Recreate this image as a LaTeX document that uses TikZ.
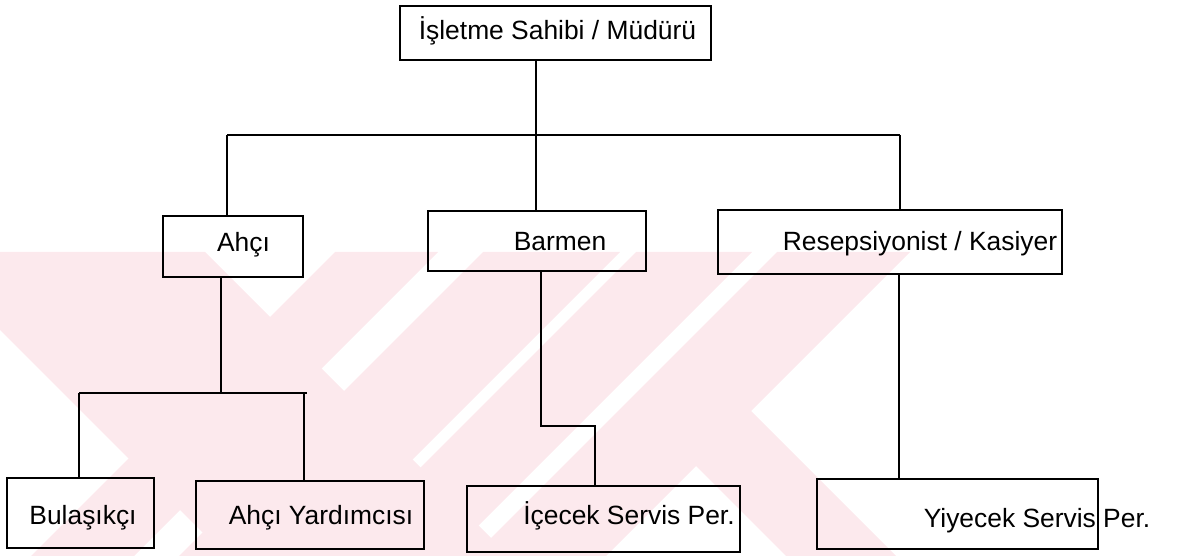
\documentclass[tikz,border=0pt]{standalone}
\usepackage{fontspec}
\setmainfont{Liberation Sans}
\begin{document}
\begin{tikzpicture}[x=1pt,y=-1pt,
  box/.style={draw=black, line width=1.7pt, rectangle, inner sep=0pt},
  lbl/.style={font=\fontsize{26.4}{30}\selectfont, anchor=base, inner sep=0pt},
  conn/.style={draw=black, line width=1.2pt},
  bus/.style={draw=black, line width=1.6pt}]
\definecolor{wm}{RGB}{252,233,237}
\useasboundingbox (0,0) rectangle (1179,556);

% pale background emblem of diagonal bands
\begin{scope}
  \clip (0,252) rectangle (1179,556);
  \fill[wm] (-78,252) -- (205,252) -- (509,556) -- (226,556) -- cycle;
  \fill[wm] (335,252) -- (438,252) -- (134,556) -- (31,556) -- cycle;
  \fill[wm] (483,252) -- (620,252) -- (316,556) -- (179,556) -- cycle;
  \fill[wm] (636,252) -- (752,252) -- (448,556) -- (332,556) -- cycle;
  \fill[wm] (777,252) -- (910,252) -- (606,556) -- (473,556) -- cycle;
  \fill[wm] (665,435) -- (720,380) -- (896,556) -- (786,556) -- cycle;
\end{scope}

% boxes
\node[box, minimum width=311, minimum height=54] (top)     at (555.5,33)  {};
\node[box, minimum width=140, minimum height=61] (ahci)    at (233,246.5) {};
\node[box, minimum width=218, minimum height=60] (barmen)  at (537,241)   {};
\node[box, minimum width=344, minimum height=64] (resep)   at (890,242)   {};
\node[box, minimum width=147, minimum height=70] (bulas)   at (80.5,513)  {};
\node[box, minimum width=228, minimum height=68] (ahciy)   at (310,515)   {};
\node[box, minimum width=273, minimum height=66] (icecek)  at (603.5,519) {};
\node[box, minimum width=281, minimum height=70] (yiyecek) at (957.5,514) {};

% labels
\node[lbl] (topT)     at (557.5,40) {İşletme Sahibi / Müdürü};
\node[lbl] (ahciT)    at (243.5,252) {Ahçı};
\node[lbl] (barmenT)  at (560,251) {Barmen};
\node[lbl] (resepT)   at (920,251) {Resepsiyonist / Kasiyer};
\node[lbl] (bulasT)   at (83,524) {Bulaşıkçı};
\node[lbl] (ahciyT)   at (321,524) {Ahçı Yardımcısı};
\node[lbl] (icecekT)  at (629,524) {İçecek Servis Per.};
\node[lbl] (yiyecekT) at (1037,527) {Yiyecek Servis Per.};

% junction points
\coordinate (busL) at (227,135);
\coordinate (hub)  at (536,135);
\coordinate (busR) at (900,135);
\coordinate (kL) at (79,393);
\coordinate (kM) at (221,393);
\coordinate (kD) at (304,393);
\coordinate (kR) at (307,393);
\coordinate (bA) at (541,426);
\coordinate (bB) at (595,426);
\coordinate (rD) at (899,380);

% first level
\draw[conn] (hub |- top.south) -- (hub);
\draw[bus] (busL) -- (busR);
\draw[conn] (busL) -- (busL |- ahci.north);
\draw[conn] (hub) -- (hub |- barmen.north);
\draw[conn] (busR) -- (busR |- resep.north);

% under Ahçı
\draw[conn] (kM |- ahci.south) -- (kM);
\draw[bus] (kL) -- (kR);
\draw[conn] (kL) -- (kL |- bulas.north);
\draw[conn] (kD) -- (kD |- ahciy.north);

% under Barmen
\draw[conn] (bA |- barmen.south) -- (bA) -- (bB) -- (bB |- icecek.north);

% under Resepsiyonist
\draw[conn] (rD |- resep.south) -- (rD |- yiyecek.north);
\end{tikzpicture}
\end{document}
